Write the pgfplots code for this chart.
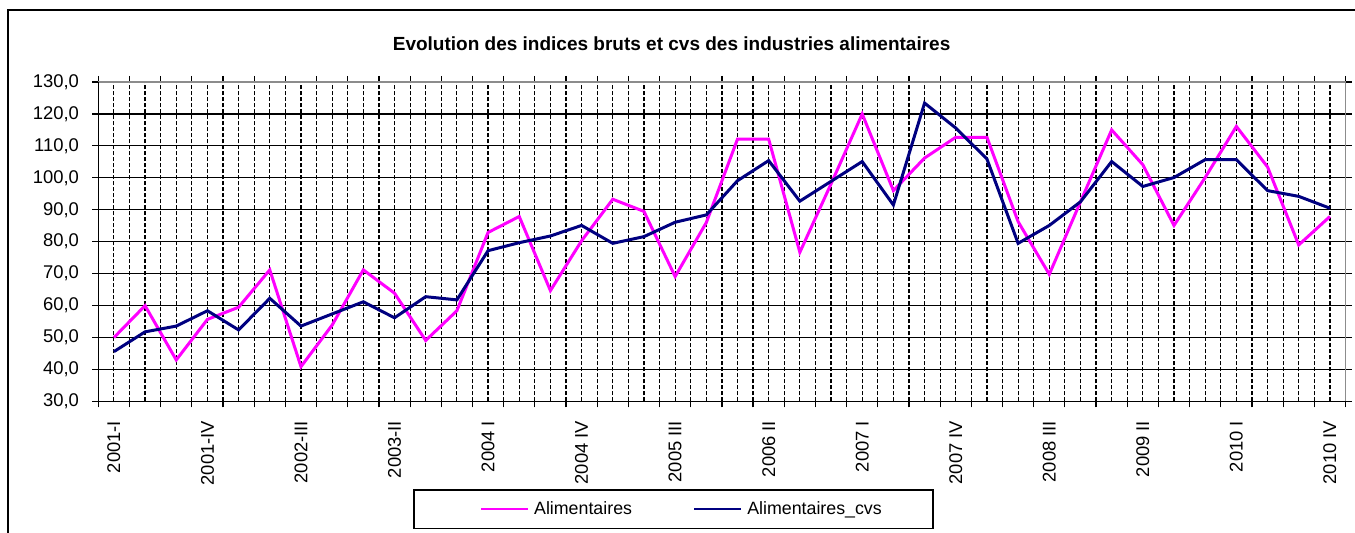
\documentclass[border=0pt]{standalone}
\usepackage{pgfplots}
\pgfplotsset{compat=1.18}
\usepackage{fontspec}
\setmainfont{Liberation Sans}
\definecolor{pinkline}{RGB}{255,0,255}
\definecolor{navyline}{RGB}{0,0,128}
\begin{document}
\begin{tikzpicture}
\clip (0pt,0pt) rectangle (677.5pt,266.5pt);
\draw[line width=0.7pt] (4pt,-20pt) rectangle (700pt,261.5pt);
\node[font=\fontsize{9.5}{10}\selectfont\bfseries, inner sep=0pt] at (335.8pt,244.8pt) {Evolution des indices bruts et cvs des industries alimentaires};
\begin{axis}[
  at={(49.15pt,65.75pt)}, anchor=south west,
  scale only axis, width=623.6pt, height=159.75pt,
  xmin=-0.5, xmax=39.5, ymin=30, ymax=130,
  ytick={30,40,...,130},
  xtick={0,3,...,39},
  xticklabels={2001-I,2001-IV,2002-III,2003-II,2004 I,2004 IV,2005 III,2006 II,2007 I,2007 IV,2008 III,2009 II,2010 I,2010 IV},
  x tick style={draw=none},
  extra x ticks={-0.5,0.5,...,39.5},
  extra x tick labels={},
  extra x tick style={grid=none, x tick style={draw=black, line width=0.6pt}, major tick length=3pt, tick align=outside},
  minor xtick={-0.5,0,...,39.5},
  xminorgrids, ymajorgrids,
  minor x grid style={black, line width=0.6pt, dash pattern=on 2pt off 1pt},
  major y grid style={black, line width=0.6pt},
  y tick style={black, line width=0.6pt}, major tick length=3pt, tick align=outside,
  axis line style={draw=none},
  /pgf/number format/.cd, fixed, fixed zerofill, precision=1, use comma, assume math mode=true,
  /pgfplots/.cd,
  tick label style={font=\fontsize{9.2}{10}\selectfont},
  xticklabel style={rotate=90, anchor=east, inner sep=0pt, xshift=-6.5pt},
  yticklabel style={anchor=east, inner sep=0pt, xshift=-6.5pt},
  legend columns=2,
  legend image code/.code={\draw[#1, line width=1.1pt] (0pt,0pt) -- (23.5pt,0pt);},
  legend style={draw=none, fill=none, at={(0.4671,-0.3376)}, anchor=center,
    font=\fontsize{8.9}{10}\selectfont,
    nodes={inner sep=0pt},
    /tikz/every odd column/.append style={column sep=2.5pt},
    /tikz/every even column/.append style={column sep=30.5pt}},
  after end axis/.code={
    \draw[gray!90, line width=0.7pt] (rel axis cs:0,1) -- (rel axis cs:1,1) -- (rel axis cs:1,0);
    \draw[black, line width=0.7pt] (rel axis cs:0,1) -- (rel axis cs:0,0) -- (rel axis cs:1,0);
  },
]
\addplot[color=pinkline, line width=1.5pt] coordinates {
(0,50.0) (1,60.0) (2,43.0) (3,55.7) (4,59.5) (5,71.2) (6,40.9) (7,53.9) (8,71.2) (9,63.9)
(10,49.1) (11,58.4) (12,82.9) (13,87.9) (14,64.7) (15,80.3) (16,93.3) (17,89.5) (18,69.1) (19,86.0)
(20,112.1) (21,112.1) (22,76.7) (23,98.1) (24,120.0) (25,96.0) (26,106.2) (27,112.7) (28,112.7) (29,86.3)
(30,69.8) (31,92.5) (32,115.0) (33,104.1) (34,85.1) (35,100.1) (36,116.1) (37,103.4) (38,79.0) (39,87.9)
};
\addlegendentry{Alimentaires}
\addplot[color=navyline, line width=1.5pt] coordinates {
(0,45.6) (1,51.8) (2,53.6) (3,58.4) (4,52.4) (5,62.3) (6,53.6) (7,57.4) (8,61.2) (9,56.2)
(10,62.8) (11,61.8) (12,77.2) (13,79.7) (14,81.8) (15,85.1) (16,79.5) (17,81.6) (18,86.1) (19,88.4)
(20,99.1) (21,105.4) (22,92.7) (23,98.9) (24,105.1) (25,91.5) (26,123.4) (27,115.6) (28,105.9) (29,79.5)
(30,85.1) (31,92.5) (32,105.1) (33,97.3) (34,100.1) (35,105.7) (36,105.7) (37,96.0) (38,94.2) (39,90.5)
};
\addlegendentry{Alimentaires\_cvs}
\end{axis}
\draw[line width=0.7pt] (207pt,2.15pt) rectangle (466.5pt,21.5pt);
\end{tikzpicture}
\end{document}
